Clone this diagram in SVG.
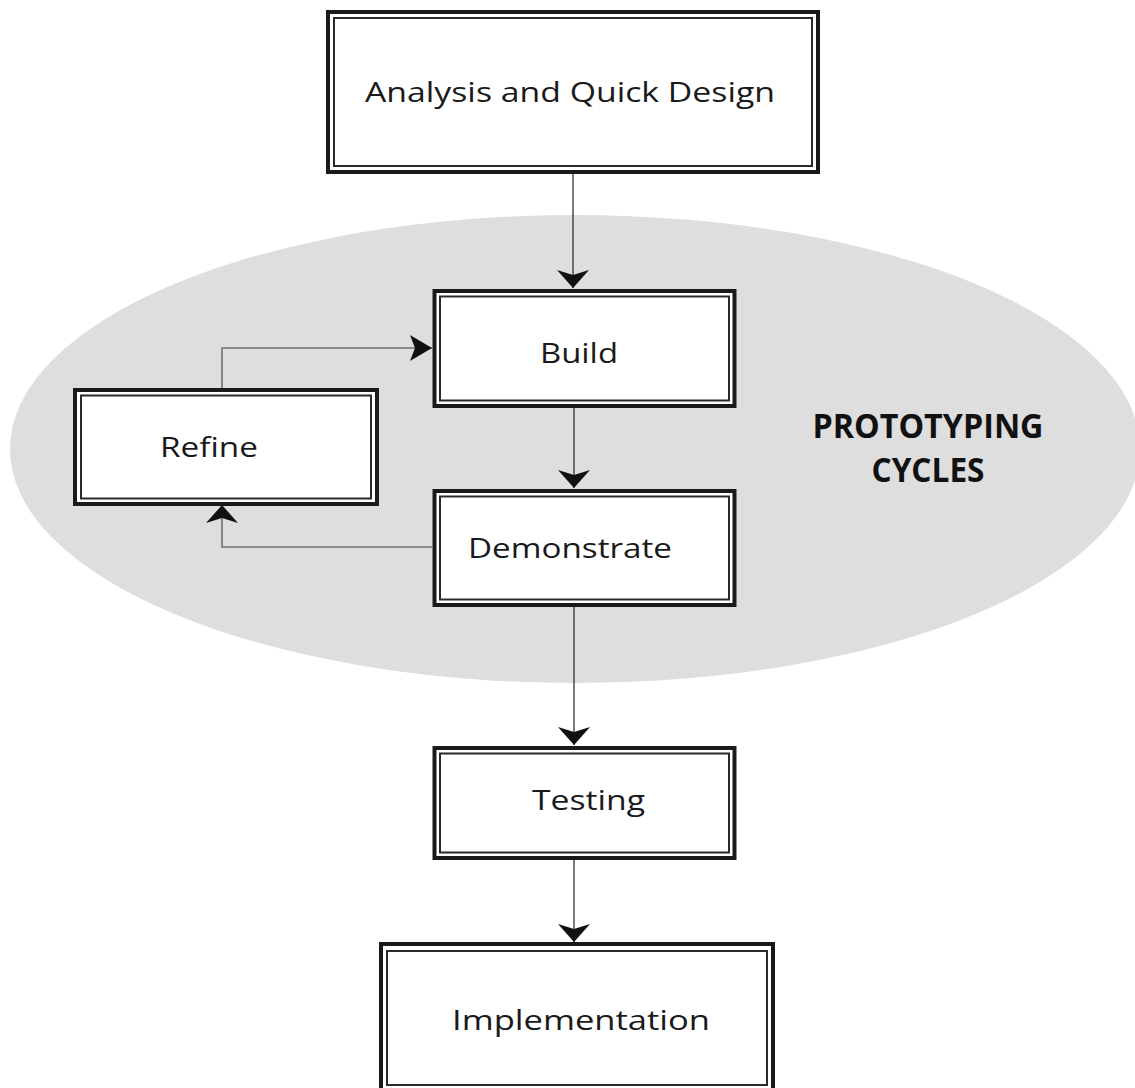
<svg xmlns="http://www.w3.org/2000/svg" width="1135" height="1088" viewBox="0 0 1135 1088">
<defs>
<style>
.outer{fill:#fff;stroke:#1a1a1a;stroke-width:4}
.inner{fill:none;stroke:#2a2a2a;stroke-width:2}
.lbl{font-family:"Open Sans","Liberation Sans",sans-serif;font-size:28px;fill:#1a1a1a}
.big{font-family:"Open Sans","Liberation Sans",sans-serif;font-size:34px;font-weight:bold;fill:#111;text-anchor:middle}
.conn{fill:none;stroke:#222;stroke-width:1.2}
.loop{fill:none;stroke:#707070;stroke-width:1.6}
</style>
<marker id="arr" viewBox="0 -16 18 32" refX="18" refY="0" markerWidth="18" markerHeight="32" markerUnits="userSpaceOnUse" orient="auto">
<path d="M0,-16 L18,0 L0,16 L5,0 Z" fill="#111"/>
</marker>
<marker id="arrs" viewBox="0 -13 22 26" refX="22" refY="0" markerWidth="22" markerHeight="26" markerUnits="userSpaceOnUse" orient="auto">
<path d="M0,-13 L22,0 L0,13 L5,0 Z" fill="#111"/>
</marker>
</defs>
<rect width="1135" height="1088" fill="#fff"/>
<ellipse id="cycle-region" cx="575" cy="449" rx="565" ry="234" fill="#dedede"/>

<g id="connectors">
<line class="conn" x1="573" y1="174" x2="573" y2="288" marker-end="url(#arr)"/>
<line class="conn" x1="574" y1="408" x2="574" y2="488" marker-end="url(#arr)"/>
<line class="conn" x1="574" y1="606" x2="574" y2="745" marker-end="url(#arr)"/>
<line class="conn" x1="574" y1="859" x2="574" y2="942" marker-end="url(#arr)"/>
<path class="loop" d="M222,388 V348 H432" marker-end="url(#arrs)"/>
<path class="loop" d="M432,547 H222 V505" marker-end="url(#arr)"/>
</g>

<g id="analysis">
<rect class="outer" x="328" y="12" width="490" height="160"/>
<rect class="inner" x="334" y="18" width="478" height="148"/>
<text class="lbl" x="365" y="102" textLength="410" lengthAdjust="spacingAndGlyphs">Analysis and Quick Design</text>
</g>

<g id="build">
<rect class="outer" x="434.5" y="291" width="300" height="115"/>
<rect class="inner" x="440" y="296.5" width="289" height="104"/>
<text class="lbl" x="540" y="363" textLength="78" lengthAdjust="spacingAndGlyphs">Build</text>
</g>

<g id="refine">
<rect class="outer" x="75" y="390" width="302" height="114"/>
<rect class="inner" x="81" y="395.5" width="290" height="103"/>
<text class="lbl" x="160" y="457" textLength="98" lengthAdjust="spacingAndGlyphs">Refine</text>
</g>

<g id="demonstrate">
<rect class="outer" x="434.5" y="491" width="300" height="114"/>
<rect class="inner" x="440" y="496.5" width="289" height="103"/>
<text class="lbl" x="468" y="558" textLength="204" lengthAdjust="spacingAndGlyphs">Demonstrate</text>
</g>

<g id="testing">
<rect class="outer" x="434.5" y="748" width="300" height="110"/>
<rect class="inner" x="440" y="753.5" width="289" height="99"/>
<text class="lbl" x="532" y="810" textLength="113" lengthAdjust="spacingAndGlyphs">Testing</text>
</g>

<g id="implementation">
<rect class="outer" x="381" y="944" width="392" height="150"/>
<rect class="inner" x="387" y="951" width="380" height="134"/>
<text class="lbl" x="452" y="1030" textLength="258" lengthAdjust="spacingAndGlyphs">Implementation</text>
</g>

<g id="prototyping-label">
<text class="big" x="928" y="438" textLength="231" lengthAdjust="spacingAndGlyphs">PROTOTYPING</text>
<text class="big" x="928" y="482" textLength="113" lengthAdjust="spacingAndGlyphs">CYCLES</text>
</g>
</svg>
